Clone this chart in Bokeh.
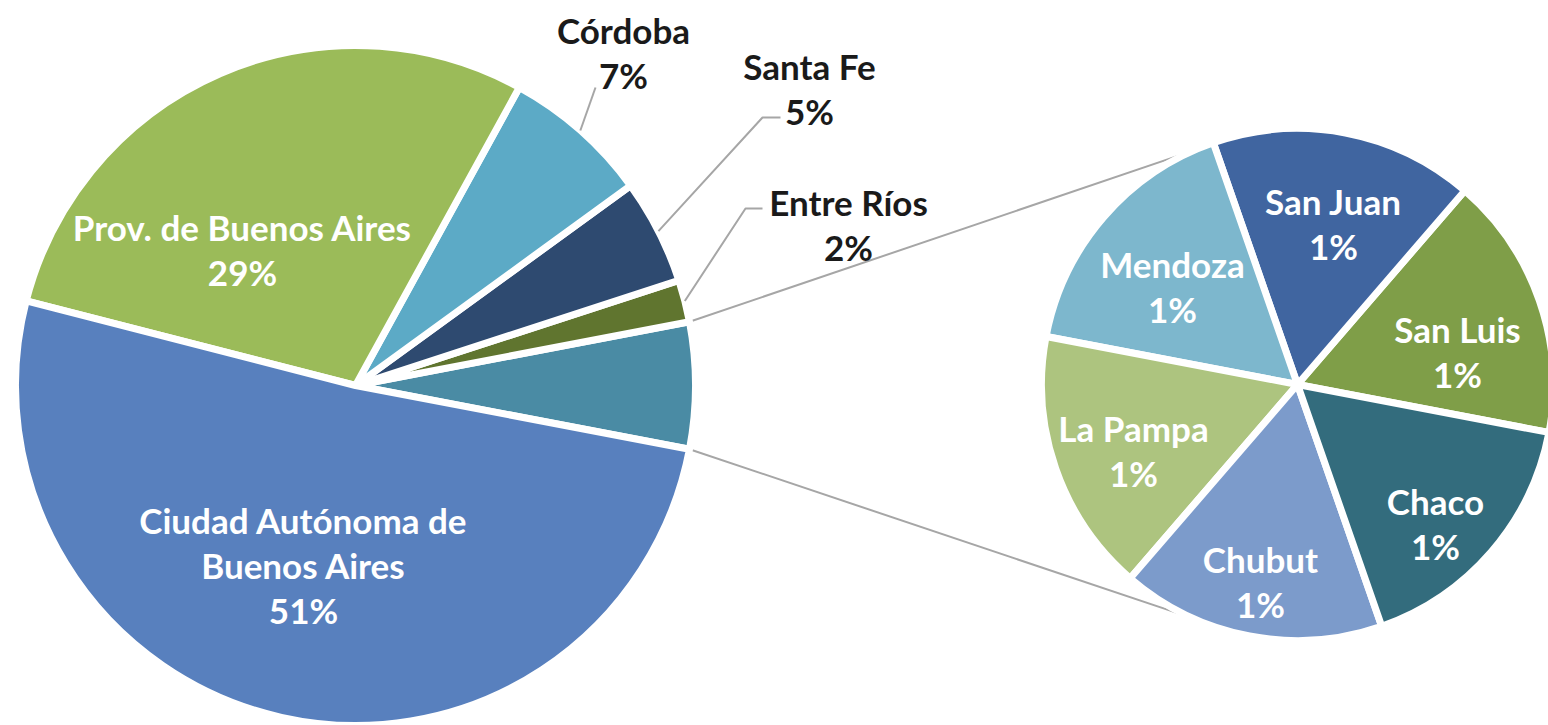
import numpy as np
from bokeh.plotting import figure
from bokeh.models import Range1d
from bokeh.embed import file_html
from bokeh.resources import INLINE
from bokeh.core.properties import value

# ---------------- data ----------------
main_names = ["Ciudad Autónoma de\nBuenos Aires", "Prov. de Buenos Aires", "Córdoba", "Santa Fe", "Entre Ríos"]
main_values = [51, 29, 7, 5, 2]
main_colors = ["#5880BE", "#9BBB59", "#5CAAC6", "#2E4A70", "#60752F"]
other_color = "#4A8BA4"

sub_names = ["San Luis", "San Juan", "Mendoza", "La Pampa", "Chubut", "Chaco"]
sub_values = [1, 1, 1, 1, 1, 1]
sub_colors = ["#7F9E48", "#4065A0", "#7DB7CD", "#ADC47F", "#7C9BCB", "#336C7D"]

# ---------------- layout ----------------
W, H = 1548, 725
PH = 725  # page height used for pixel -> data conversion


def Y(py):
    return PH - py


main_c = (355, Y(385))
main_r = 340
sub_c = (1297, Y(384))
sub_r = 256
conn_angle = 114  # degrees where connectors meet the second pie

# label anchors (x, y of first line, in page pixels)
main_label_pos = [(303, 519), (242, 226), (623, 29), (809, 65), (848, 201)]
main_label_inside = [True, True, False, False, False]
sub_label_pos = [(1457, 328), (1333, 200), (1172, 263), (1133, 427), (1260, 558), (1435, 500)]
line_gap = 45
# leader line paths for outside labels (after the slice point)
leaders = {2: [(595, 87)], 3: [(762, 117), (780, 117)], 4: [(745, 208), (762, 208)]}

p = figure(width=W, height=H, output_backend="svg", toolbar_location=None,
           x_range=Range1d(0, W), y_range=Range1d(PH - H, PH),
           min_border=0, outline_line_color=None)
p.axis.visible = False
p.xgrid.visible = False
p.ygrid.visible = False
p.background_fill_color = "white"
p.border_fill_color = "white"

total = sum(main_values) + sum(sub_values)
other_val = sum(sub_values)

# main pie: counter-clockwise starting from the lower edge of the "other" slice
order_vals = [other_val] + main_values[::-1]
order_cols = [other_color] + main_colors[::-1]
start = -other_val / total * 360 / 2
starts, ends = [], []
a = start
for v in order_vals:
    starts.append(a)
    a += v / total * 360
    ends.append(a)

# connector lines
other_a0, other_a1 = np.radians(starts[0]), np.radians(ends[0])
for ma, sa in [(other_a1, np.radians(conn_angle)), (other_a0, np.radians(-conn_angle))]:
    x0 = main_c[0] + main_r * np.cos(ma)
    y0 = main_c[1] + main_r * np.sin(ma)
    x1 = sub_c[0] + sub_r * np.cos(sa)
    y1 = sub_c[1] + sub_r * np.sin(sa)
    p.line([x0, x1], [y0, y1], line_color="#A6A6A6", line_width=2)

p.wedge(x=[main_c[0]] * len(order_vals), y=[main_c[1]] * len(order_vals), radius=main_r,
        start_angle=np.radians(starts), end_angle=np.radians(ends),
        fill_color=order_cols, line_color="white", line_width=7)

# second pie
sub_total = sum(sub_values)
s_starts, s_ends = [], []
a = start
for v in sub_values:
    s_starts.append(a)
    a += v / sub_total * 360
    s_ends.append(a)
p.wedge(x=[sub_c[0]] * len(sub_values), y=[sub_c[1]] * len(sub_values), radius=sub_r,
        start_angle=np.radians(s_starts), end_angle=np.radians(s_ends),
        fill_color=sub_colors, line_color="white", line_width=7)

# leader lines for outside labels
main_mid = {}
for i in range(len(main_values)):
    k = len(order_vals) - 1 - i  # index in drawing order
    main_mid[i] = np.radians((starts[k] + ends[k]) / 2)
for i, pts in leaders.items():
    m = main_mid[i]
    xs = [main_c[0] + main_r * np.cos(m)] + [q[0] for q in pts]
    ys = [main_c[1] + main_r * np.sin(m)] + [Y(q[1]) for q in pts]
    p.line(xs, ys, line_color="#A6A6A6", line_width=2)

FONT = value("Lato")
FS = "35px"


def add_label(x, y0, lines, color):
    ys = [Y(y0 + j * line_gap) for j in range(len(lines))]
    p.text(x=[x] * len(lines), y=ys, text=lines, text_align="center", text_baseline="middle",
           text_font=FONT, text_font_size=FS, text_font_style="bold", text_color=color)


for i, (nm, v) in enumerate(zip(main_names, main_values)):
    lines = nm.split("\n") + [f"{v}%"]
    col = "white" if main_label_inside[i] else "#1A1A1A"
    add_label(main_label_pos[i][0], main_label_pos[i][1], lines, col)

for i, (nm, v) in enumerate(zip(sub_names, sub_values)):
    add_label(sub_label_pos[i][0], sub_label_pos[i][1], [nm, f"{v}%"], "white")

open("out.html", "w").write(file_html(p, INLINE))
